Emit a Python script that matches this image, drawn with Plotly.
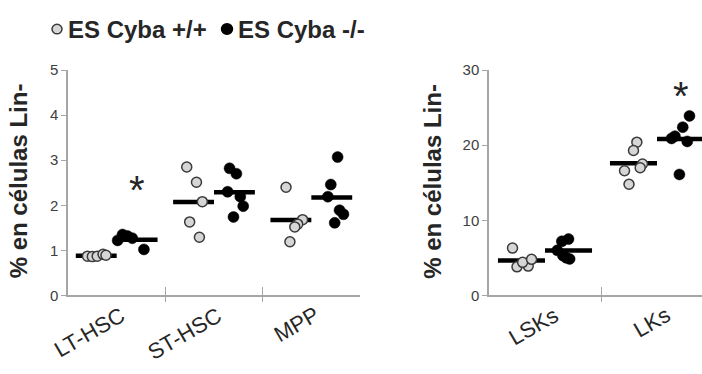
import plotly.graph_objects as go

# ---- data: % of Lin- cells per animal ----
left_categories = ["LT-HSC", "ST-HSC", "MPP"]
right_categories = ["LSKs", "LKs"]

wt_left = [
    [0.87, 0.86, 0.87, 0.91, 0.89],
    [2.85, 2.51, 2.08, 1.63, 1.29],
    [2.40, 1.68, 1.58, 1.52, 1.19],
]
ko_left = [
    [1.22, 1.35, 1.32, 1.27, 1.02],
    [2.82, 2.70, 2.30, 2.19, 1.98, 1.74],
    [3.07, 2.46, 2.19, 1.89, 1.80, 1.61],
]
wt_right = [
    [6.3, 3.8, 3.9, 4.4, 4.8],
    [20.4, 19.3, 17.5, 17.0, 16.6, 14.8],
]
ko_right = [
    [7.2, 7.5, 6.0, 5.3, 4.85, 5.0],
    [23.9, 22.4, 21.2, 20.9, 20.5, 16.1],
]

# horizontal jitter of each animal (category units, relative to category centre)
wt_left_jitter = [
    [-0.30, -0.25, -0.20, -0.14, -0.11],
    [-0.28, -0.18, -0.12, -0.25, -0.15],
    [-0.26, -0.09, -0.14, -0.17, -0.22],
]
ko_left_jitter = [
    [0.01, 0.06, 0.11, 0.16, 0.28],
    [0.16, 0.23, 0.14, 0.27, 0.30, 0.20],
    [0.27, 0.20, 0.17, 0.29, 0.33, 0.24],
]
wt_right_jitter = [
    [-0.29, -0.25, -0.15, -0.20, -0.12],
    [-0.18, -0.21, -0.13, -0.15, -0.29, -0.25],
]
ko_right_jitter = [
    [0.15, 0.21, 0.11, 0.16, 0.22, 0.19],
    [0.29, 0.23, 0.16, 0.13, 0.27, 0.20],
]

# significance (* p<0.05) drawn above the knockout group
sig_left = [2.58, None, None]
sig_right = [None, 28.0]

y_title = "% en células Lin-"
wt_name = "ES Cyba +/+"
ko_name = "ES Cyba -/-"

# ---- geometry (pixels of the 702x374 canvas) ----
W, H = 702, 374
PLOT_TOP, PLOT_BOTTOM = 64, 300
LEFT_X0, LEFT_X1 = 68, 360
RIGHT_X0, RIGHT_X1 = 489, 702
RIGHT_CAT_PX = 112

GROUP_OFFSET = 0.21
HALF_BAR = 0.21

AXIS_COLOR = "#a6a6a6"
WT_FILL = "#d6d6d6"
WT_EDGE = "#3a3a3a"
TEXT_COLOR = "#262626"
FONT = "Liberation Sans, Arial, sans-serif"


def px_x(x):
    return x / W


def px_y(y):
    return 1 - y / H


fig = go.Figure()


def add_panel(xa, ya, wt, ko, wt_j, ko_j):
    # mean bars
    bx, by = [], []
    for i, (a, b) in enumerate(zip(wt, ko)):
        for vals, off in ((a, -GROUP_OFFSET), (b, GROUP_OFFSET)):
            m = sum(vals) / len(vals)
            bx += [i + off - HALF_BAR, i + off + HALF_BAR, None]
            by += [m, m, None]
    fig.add_trace(go.Scatter(
        x=bx, y=by, mode="lines", xaxis=xa, yaxis=ya,
        line=dict(color="black", width=4.5), showlegend=False, hoverinfo="skip"))
    # individual animals
    xs, ys = [], []
    for i, (vals, jit) in enumerate(zip(wt, wt_j)):
        xs += [i + j for j in jit]
        ys += vals
    fig.add_trace(go.Scatter(
        x=xs, y=ys, mode="markers", xaxis=xa, yaxis=ya, name=wt_name,
        marker=dict(size=10, color=WT_FILL, line=dict(color=WT_EDGE, width=1.5)),
        showlegend=False))
    xs, ys = [], []
    for i, (vals, jit) in enumerate(zip(ko, ko_j)):
        xs += [i + j for j in jit]
        ys += vals
    fig.add_trace(go.Scatter(
        x=xs, y=ys, mode="markers", xaxis=xa, yaxis=ya, name=ko_name,
        marker=dict(size=11, color="black", line=dict(color="black", width=0.5)),
        showlegend=False))


add_panel("x", "y", wt_left, ko_left, wt_left_jitter, ko_left_jitter)
add_panel("x2", "y2", wt_right, ko_right, wt_right_jitter, ko_right_jitter)

ydom = [px_y(PLOT_BOTTOM), px_y(PLOT_TOP)]
xaxis_common = dict(
    showline=True, linecolor=AXIS_COLOR, linewidth=1.5,
    showgrid=False, zeroline=False, showticklabels=False,
    tickmode="array", ticks="inside", ticklen=9, tickwidth=1.2, tickcolor=AXIS_COLOR,
    minor=dict(tickmode="array", ticks="outside", ticklen=5, tickwidth=1.2,
               tickcolor=AXIS_COLOR, showgrid=False),
    fixedrange=True,
)
yaxis_common = dict(
    showline=True, linecolor=AXIS_COLOR, linewidth=1.5,
    showgrid=False, zeroline=False,
    ticks="outside", ticklen=5, tickwidth=1.2, tickcolor=AXIS_COLOR,
    tickfont=dict(family=FONT, size=15, color="#404040"),
    fixedrange=True,
)

n_left = len(left_categories)
n_right = len(right_categories)
left_bounds = [i + 0.5 for i in range(n_left - 1)]
right_bounds = [i + 0.5 for i in range(n_right - 1)]

fig.update_layout(
    width=W, height=H,
    margin=dict(l=0, r=0, t=0, b=0),
    paper_bgcolor="white", plot_bgcolor="white",
    xaxis=dict(xaxis_common, domain=[px_x(LEFT_X0), px_x(LEFT_X1)],
               range=[-0.5, n_left - 0.5], tickvals=left_bounds,
               minor=dict(xaxis_common["minor"], tickvals=left_bounds)),
    yaxis=dict(yaxis_common, domain=ydom, range=[0, 5], dtick=1, tick0=0),
    xaxis2=dict(xaxis_common, domain=[px_x(RIGHT_X0), 1.0],
                range=[-0.5, -0.5 + (RIGHT_X1 - RIGHT_X0) / RIGHT_CAT_PX],
                tickvals=right_bounds,
                minor=dict(xaxis_common["minor"], tickvals=right_bounds),
                anchor="y2"),
    yaxis2=dict(yaxis_common, domain=ydom, range=[0, 30], dtick=10, tick0=0,
                anchor="x2"),
    showlegend=False,
)

annotations = []

# rotated category labels
for xref, yref, cats, shift in (("x", "y", left_categories, 15),
                                ("x2", "y2", right_categories, 20)):
    for i, c in enumerate(cats):
        annotations.append(dict(
            x=i, y=0, xref=xref, yref=yref, text=c, showarrow=False,
            textangle=-30, xanchor="right", yanchor="top",
            xshift=shift, yshift=-4,
            font=dict(family=FONT, size=22, color=TEXT_COLOR)))

# significance stars
for xref, yref, sig in (("x", "y", sig_left), ("x2", "y2", sig_right)):
    for i, s in enumerate(sig):
        if s is None:
            continue
        annotations.append(dict(
            x=i + GROUP_OFFSET, y=s, xref=xref, yref=yref, text="*",
            showarrow=False, xanchor="center", yanchor="middle", yshift=-11,
            font=dict(family=FONT, size=40, color=TEXT_COLOR)))

# y-axis titles
for xc in (18.5, 433):
    annotations.append(dict(
        x=px_x(xc), y=px_y((PLOT_TOP + PLOT_BOTTOM) / 2 - 2), xref="paper", yref="paper",
        text=f"<b>{y_title}</b>", showarrow=False, textangle=-90,
        xanchor="center", yanchor="middle",
        font=dict(family=FONT, size=24, color=TEXT_COLOR)))

# legend
legend_y = 21
for mx, tx, name, fill, edge, r in ((57, 66, wt_name, WT_FILL, WT_EDGE, 5),
                                    (227, 236, ko_name, "black", "black", 5.5)):
    fig.add_shape(type="circle", xref="paper", yref="paper",
                  x0=px_x(mx - r), x1=px_x(mx + r),
                  y0=px_y(legend_y + r), y1=px_y(legend_y - r),
                  fillcolor=fill, line=dict(color=edge, width=1.5))
    annotations.append(dict(
        x=px_x(tx), y=px_y(legend_y), xref="paper", yref="paper",
        text=f"<b>{name}</b>", showarrow=False, xanchor="left", yanchor="middle",
        font=dict(family=FONT, size=24, color=TEXT_COLOR)))

fig.update_layout(annotations=annotations)

fig.write_html("out.html")
